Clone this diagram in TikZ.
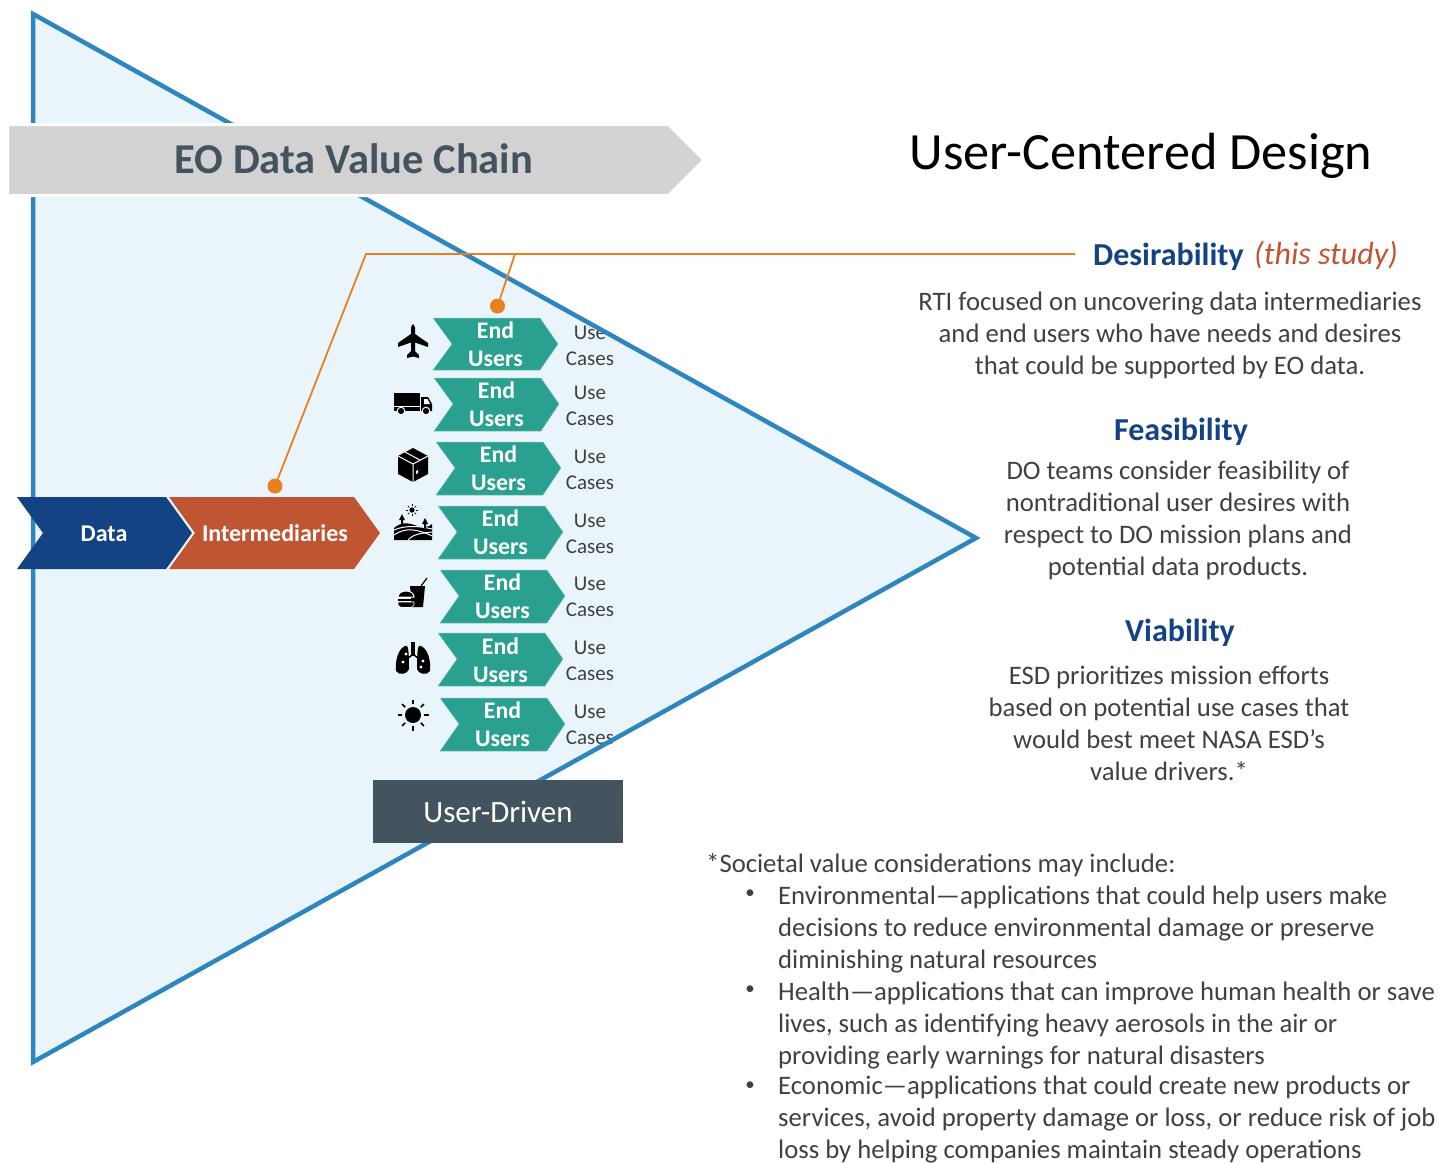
\documentclass[tikz,border=0pt]{standalone}
\usepackage{fontspec}
\setmainfont{Carlito}
\definecolor{triline}{HTML}{2E86C1}
\definecolor{trifill}{HTML}{EAF5FB}
\definecolor{chaingrey}{HTML}{D2D2D2}
\definecolor{slate}{HTML}{44546A}
\definecolor{darkslate}{HTML}{44545F}
\definecolor{navy}{HTML}{144383}
\definecolor{rust}{HTML}{C05533}
\definecolor{tealgreen}{HTML}{2AA090}
\definecolor{dotorange}{HTML}{E88020}
\definecolor{bodygrey}{HTML}{404040}
\newcommand{\fsize}[1]{\fontsize{#1}{#1}\selectfont}
\tikzset{
    endchevron/.style={fill=tealgreen, draw=tealgreen!60!white, line width=0.5},
    endtext/.style={white, font=\fontsize{23.8}{28}\selectfont\bfseries, align=center, inner sep=0},
    usetext/.style={bodygrey, font=\fontsize{21}{26}\selectfont, align=center, inner sep=0},
    heading/.style={navy, font=\fontsize{32}{36}\selectfont\bfseries, inner sep=0},
    bodytext/.style={bodygrey, font=\fontsize{26.7}{32}\selectfont, align=center, inner sep=0},
    listtext/.style={bodygrey, font=\fontsize{26.7}{32}\selectfont, align=left, inner sep=0, anchor=north west},
    bulletdot/.style={bodygrey, font=\fontsize{19}{32}\selectfont, inner sep=0},
    calldot/.style={circle, fill=dotorange, minimum size=15, inner sep=0},
    callline/.style={dotorange, line width=1.8},
    stepwhite/.style={white, font=\fontsize{24}{28}\selectfont\bfseries, inner sep=0}
}
\begin{document}
\begin{tikzpicture}[x=1pt, y=-1pt]
    \useasboundingbox (0, 0) rectangle (1439, 1163);
    % big triangle
    \fill[trifill] (33, 14) -- (976, 538) -- (33, 1062) -- cycle;
    \node[usetext] (use1) at (590, 346) {Use\\Cases};
    \node[usetext] (use2) at (590, 406) {Use\\Cases};
    \node[usetext] (use3) at (590, 470) {Use\\Cases};
    \node[usetext] (use4) at (590, 534) {Use\\Cases};
    \node[usetext] (use5) at (590, 597) {Use\\Cases};
    \node[usetext] (use6) at (590, 661) {Use\\Cases};
    \node[usetext] (use7) at (590, 725) {Use\\Cases};
    \draw[triline, line width=4.5] (33, 14) -- (976, 538) -- (33, 1062) -- cycle;

    % value chain arrow
    \draw[fill=chaingrey, draw=white, line width=3] (7.5, 124.5) -- (668.6, 124.5) -- (704, 160) -- (668.6, 195.5) -- (7.5, 195.5) -- cycle;
    \node[darkslate, font=\fsize{42.5}\bfseries, inner sep=0] (chain) at (354, 159) {EO Data Value Chain};

    % data and intermediaries
    \fill[navy] (17, 497) -- (166, 497) -- (192, 533) -- (166, 569) -- (17, 569) -- (43, 533) -- cycle;
    \fill[rust] (169, 497) -- (354, 497) -- (380, 533) -- (354, 569) -- (169, 569) -- (195, 533) -- cycle;
    \node[stepwhite] (data) at (104, 534) {Data};
    \node[stepwhite] (inter) at (275, 533.5) {Intermediaries};

    % end user rows
    \draw[endchevron] (433, 318) -- (540, 318) -- (558, 344) -- (540, 370) -- (433, 370) -- (452, 344) -- cycle;
    \draw[endchevron] (434, 378) -- (541, 378) -- (559, 404) -- (541, 431) -- (434, 431) -- (453, 404) -- cycle;
    \draw[endchevron] (436, 442) -- (543, 442) -- (561, 468) -- (543, 495) -- (436, 495) -- (455, 468) -- cycle;
    \draw[endchevron] (438, 506) -- (545, 506) -- (563, 532) -- (545, 559) -- (438, 559) -- (457, 532) -- cycle;
    \draw[endchevron] (440, 570) -- (547, 570) -- (565, 596) -- (547, 623) -- (440, 623) -- (459, 596) -- cycle;
    \draw[endchevron] (438, 633) -- (545, 633) -- (563, 659) -- (545, 686) -- (438, 686) -- (457, 659) -- cycle;
    \draw[endchevron] (440, 698) -- (547, 698) -- (565, 724) -- (547, 751) -- (440, 751) -- (459, 724) -- cycle;
    \node[endtext] (end1) at (495.5, 344.5) {End\\Users};
    \node[endtext] (end2) at (496.5, 404.5) {End\\Users};
    \node[endtext] (end3) at (498.5, 468.5) {End\\Users};
    \node[endtext] (end4) at (500.5, 532.5) {End\\Users};
    \node[endtext] (end5) at (502.5, 596.5) {End\\Users};
    \node[endtext] (end6) at (500.5, 660.5) {End\\Users};
    \node[endtext] (end7) at (502.5, 724.5) {End\\Users};

    % plane
    \fill[black] (411, 328) .. controls (412, 323) and (414, 323) .. (415, 328) -- (415, 334) -- (428, 343) -- (428, 347) -- (415, 342.5) -- (415, 351) -- (419, 355) -- (419, 358) -- (413, 356.5) -- (407, 358) -- (407, 355) -- (411, 351) -- (411, 342.5) -- (398, 347) -- (398, 343) -- (411, 334) -- cycle;
    % truck
    \fill[black] (394, 393) rectangle (420, 411);
    \fill[black] (421, 397) -- (428, 397) -- (432, 404) -- (432, 411) -- (421, 411) -- cycle;
    \fill[white] (424, 399) -- (427.5, 399) -- (430, 404) -- (424, 404) -- cycle;
    \draw[white, line width=1] (394, 406) -- (420, 406);
    \draw[fill=black, draw=white, line width=1] (401, 411) circle (3.8);
    \draw[fill=black, draw=white, line width=1] (426, 411) circle (3.8);
    % box
    \fill[black] (413, 448) -- (428, 456) -- (428, 474) -- (413, 482) -- (398, 474) -- (398, 456) -- cycle;
    \draw[white, line width=1] (398, 456) -- (413, 464) -- (428, 456) (413, 464) -- (413, 482);
    \draw[white, line width=1] (405, 452) -- (420, 460);
    \fill[white] (416, 471) -- (418, 470) -- (418, 473) -- (416, 474) -- cycle;
    % fields
    \fill[black] (394, 528) .. controls (403, 520) and (412, 524) .. (420, 527) .. controls (424, 528) and (429, 527) .. (432, 524) -- (432, 540) -- (394, 540) -- cycle;
    \draw[white, line width=1] (394, 535) .. controls (405, 527) and (418, 529) .. (432, 536);
    \draw[white, line width=1] (394, 530) .. controls (405, 525) and (420, 526) .. (432, 529);
    \draw[white, line width=1] (408, 540) .. controls (413, 534) and (422, 533) .. (432, 532);
    \fill[black] (412, 510) circle (2.6);
    \foreach \ang in {0, 45, ..., 315} \draw[black, line width=0.7] (412, 510) ++(\ang:3.6) -- ++(\ang:2.4);
    \fill[black] (402, 514) -- (405, 520) -- (403, 520) -- (403, 525) -- (401, 525) -- (401, 520) -- (399, 520) -- cycle;
    \fill[black] (425, 518) -- (428, 524) -- (426, 524) -- (426, 528) -- (424, 528) -- (424, 524) -- (422, 524) -- cycle;
    % food
    \fill[black] (410, 586) -- (425, 586) -- (423, 607) -- (412, 607) -- cycle;
    \draw[black, line width=1.2] (421, 586) -- (427, 578);
    \draw[fill=black, draw=white, line width=1] (398, 597) .. controls (398, 589) and (414, 589) .. (414, 597) -- cycle;
    \fill[black] (398, 598.5) rectangle (414, 601);
    \draw[fill=black, draw=white, line width=0.6] (398, 602) -- (414, 602) -- (414, 605) -- (411, 607.5) -- (401, 607.5) -- (398, 605) -- cycle;
    % lungs
    \fill[black] (411, 642) rectangle (415, 656);
    \draw[black, line width=1.5] (413, 654) -- (406, 660) (413, 654) -- (420, 660);
    \fill[black] (405, 646) .. controls (398, 649) and (395, 661) .. (396, 671) .. controls (399, 676) and (408, 674) .. (409, 669) .. controls (409, 662) and (409, 654) .. (408, 648) .. controls (408, 646) and (406, 645) .. (405, 646) -- cycle;
    \fill[black] (421, 646) .. controls (428, 649) and (431, 661) .. (430, 671) .. controls (427, 676) and (418, 674) .. (417, 669) .. controls (417, 662) and (417, 654) .. (418, 648) .. controls (418, 646) and (420, 645) .. (421, 646) -- cycle;
    \foreach \px/\py in {403/662, 423/661, 406/654, 421/667} \fill[white] (\px, \py) circle (1.7);
    % sun
    \fill[black] (413, 715) circle (8);
    \foreach \ang in {0, 45, ..., 315} \draw[black, line width=1.5] (413, 715) ++(\ang:11) -- ++(\ang:4.5);

    % user driven box
    \node[fill=darkslate, text=white, minimum width=250, minimum height=63, inner sep=0, font=\fsize{31}] (driven) at (498, 811.5) {\raisebox{-1.5pt}{User-Driven}};

    % callouts
    \node[calldot] (dotend) at (497.5, 306) {};
    \node[calldot] (dotinter) at (275, 486) {};
    \coordinate (callright) at (1075, 254);
    \coordinate (callbend) at (366, 254);
    \coordinate (callend) at (515, 254);
    \draw[callline] (callright) -- (callbend) -- (dotinter);
    \draw[callline] (callend) -- (dotend);

    % right side
    \node[black, font=\fsize{52.3}, inner sep=0] (title) at (1141, 156) {User-Centered Design};
    \node[heading, anchor=base west] (desire) at (1093, 265) {Desirability};
    \node[rust, font=\fsize{32}\itshape, inner sep=0, anchor=base west] (study) at (1254, 264) {(this study)};
    \node[bodytext] (desiretext) at (1170, 335) {RTI focused on uncovering data intermediaries\\and end users who have needs and desires\\that could be supported by EO data.};
    \node[heading] (feasible) at (1181, 432) {Feasibility};
    \node[bodytext] (feasibletext) at (1178, 520) {DO teams consider feasibility of\\nontraditional user desires with\\respect to DO mission plans and\\potential data products.};
    \node[heading] (viable) at (1180, 633) {Viability};
    \node[bodytext] (viabletext) at (1169, 723) {ESD prioritizes mission efforts\\based on potential use cases that\\would best meet NASA ESD’s\\value drivers.*};

    % footnote
    \node[listtext] (footnote) at (706, 853) {*Societal value considerations may include:};
    \node[listtext] (env) at (778, 886) {Environmental—applications that could help users make\\decisions to reduce environmental damage or preserve\\diminishing natural resources};
    \node[listtext] (health) at (778, 982) {Health—applications that can improve human health or save\\lives, such as identifying heavy aerosols in the air or\\providing early warnings for natural disasters};
    \node[listtext] (econ) at (778, 1076) {Economic—applications that could create new products or\\services, avoid property damage or loss, or reduce risk of job\\loss by helping companies maintain steady operations};
    \node[bulletdot] (bulletenv) at (750, 894) {•};
    \node[bulletdot] (bullethealth) at (750, 990) {•};
    \node[bulletdot] (bulletecon) at (750, 1086) {•};
\end{tikzpicture}
\end{document}
